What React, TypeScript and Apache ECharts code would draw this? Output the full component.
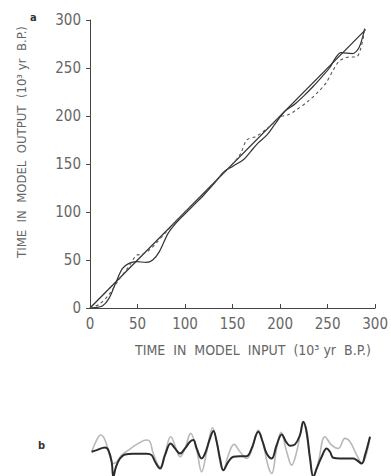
import React, { useEffect, useRef } from "react";
import * as echarts from "echarts";

// Panel a: tick values
const axisTicks = [0, 50, 100, 150, 200, 250, 300];

// Panel a: 1:1 reference line [input, output] (10^3 yr B.P.)
const diagonalLine: number[][] = [
  [0, 0],
  [290, 290],
];

// Panel a: solid model output curve
const solidCurve: number[][] = [
  [0, 0], [5, 0.5], [13, 2], [20, 10], [27, 26], [34, 41], [41, 46.5], [49, 48.3],
  [59, 47.5], [66, 50], [73, 58.7], [82, 77.5], [90, 88], [100, 98], [110, 108],
  [120, 118], [130, 129], [141, 142], [150, 147.5], [162, 155], [169, 163],
  [177, 172], [186, 180], [195, 192], [205, 205], [215, 212], [225, 221],
  [235, 231], [245, 242], [252, 250], [258, 260], [264, 266], [276, 265],
  [283, 271], [289, 291],
];

// Panel a: dashed model output curve
const dashedCurve: number[][] = [
  [0, 0], [10, 4], [20, 14], [30, 29], [40, 42], [49, 55], [55, 56], [62, 60],
  [70, 68], [80, 79], [90, 90], [100, 100], [110, 110], [120, 120], [130, 130],
  [140, 140], [150, 150], [158, 160], [165, 175], [174, 178.5], [180, 182],
  [190, 190], [200, 199], [208, 201], [215, 205], [229, 215], [239, 224],
  [248, 234], [256, 248], [262, 257], [270, 261], [281, 262], [289, 290],
];

// Panel b: dark record (time, relative value)
const darkRecord: number[][] = [
  [1.7, 0.75], [6.8, 0.875], [15.4, 1.075], [18.8, 0.875], [22.2, 0], [23.9, -1.125],
  [26.6, -0.375], [30.7, 0.25], [35.8, 0.55], [44.4, 0.6], [58, 0.6], [63.1, 0.5],
  [66.6, 0], [71.7, -0.5], [76.8, 0.5], [82.6, 1.375], [87, 1.0], [92.2, 0.625],
  [97.3, 1.0], [102.4, 1.5], [105.8, 1.625], [109.2, 1.0], [114.3, 0.25],
  [117.8, 0.625], [122.9, 1.75], [126.3, 2.3], [129.7, 1.5], [133.1, 0.25],
  [136.5, -0.625], [141.6, 0], [146.8, 0.375], [153.6, 0.425], [160.4, 0.425],
  [165.5, 1.0], [172.4, 2.25], [176.8, 1.5], [180.9, 0.625], [186, 0.25],
  [191.1, 1.25], [196.3, 2.05], [200.7, 1.5], [204.8, 1.2], [209.9, 1.3],
  [215, 2.0], [218.4, 3.0], [221.8, 2.25], [225.3, 0.25], [228.7, -1.125],
  [232.1, -0.5], [237.2, 0.375], [242.3, 1.0], [245.7, 0.75], [249.1, 0.3],
  [256, 0.25], [262.8, 0.25], [269.6, 0.25], [273.1, 0.125], [278.2, -0.125],
  [281.6, 0.5], [286.7, 1.875],
];

// Panel b: light record
const lightRecord: number[][] = [
  [1.7, 0.75], [6.8, 1.625], [10.9, 2.0], [15.4, 1.625], [20.5, 0.375], [23.9, -0.125],
  [27.3, 0], [32.4, 0.5], [39.3, 0.875], [49.5, 1.375], [58, 1.625], [61.4, 1.5],
  [64.8, 0.625], [71.7, -0.375], [76.8, 0.625], [82.6, 1.875], [88.7, 0.875],
  [92.2, 0.375], [97.3, 1.0], [103.1, 2.125], [109.2, 0.875], [114.3, -0.75],
  [119.5, 0.75], [125.6, 2.55], [129.7, 1.5], [133.1, 0], [136.5, -0.625],
  [141.6, 0.5], [147.5, 1.3], [153.6, 0.75], [160.4, 0.25], [165.5, 0.875],
  [172.4, 2.375], [177.5, 1.25], [182.6, -0.375], [186, -0.875], [191.1, 1.0],
  [195.6, 2.2], [201.4, 0.75], [206.5, -0.25], [211.6, 0.75], [218.4, 2.875],
  [225.3, 0.25], [228.7, -1.125], [233.8, 0], [240.6, 1.875], [247.4, 1.25],
  [254.3, 1.0], [261.1, 1.75], [266.2, 1.5], [273.1, 0.5], [278.2, -0.125],
  [286.7, 1.875],
];

const FONT = "'Liberation Sans Narrow', 'DejaVu Sans Condensed', 'Roboto', sans-serif";
const TEXT_COLOR = "#666";
const LINE_COLOR = "#333";

export default function App() {
  const ref = useRef<HTMLDivElement>(null);

  useEffect(() => {
    if (!ref.current) return;
    const chart = echarts.init(ref.current, undefined, { renderer: "svg" });
    const tickMin = axisTicks[0];
    const tickMax = axisTicks[axisTicks.length - 1];
    const tickStep = axisTicks[1] - axisTicks[0];

    chart.setOption({
      animation: false,
      backgroundColor: "#fff",
      grid: [
        { left: 90, right: 8, top: 20, bottom: 168 },
        { left: 90, right: 8, top: 419, bottom: 0 },
      ],
      xAxis: [
        {
          gridIndex: 0,
          type: "value",
          min: tickMin,
          max: tickMax,
          interval: tickStep,
          axisLine: { show: true, lineStyle: { color: "#444", width: 1 } },
          axisTick: { show: true, inside: true, length: 4, lineStyle: { color: "#444" } },
          splitLine: { show: false },
          axisLabel: { color: TEXT_COLOR, fontFamily: FONT, fontSize: 15, margin: 8 },
        },
        {
          gridIndex: 1,
          type: "value",
          min: 0,
          max: 300,
          show: false,
        },
      ],
      yAxis: [
        {
          gridIndex: 0,
          type: "value",
          min: tickMin,
          max: tickMax,
          interval: tickStep,
          axisLine: { show: true, lineStyle: { color: "#444", width: 1 } },
          axisTick: { show: true, inside: false, length: 4, lineStyle: { color: "#444" } },
          splitLine: { show: false },
          axisLabel: { color: TEXT_COLOR, fontFamily: FONT, fontSize: 15, margin: 9 },
        },
        {
          gridIndex: 1,
          type: "value",
          min: -1.06,
          max: 3.2,
          show: false,
        },
      ],
      series: [
        {
          type: "line",
          xAxisIndex: 0,
          yAxisIndex: 0,
          data: diagonalLine,
          showSymbol: false,
          lineStyle: { color: LINE_COLOR, width: 1.3 },
        },
        {
          type: "line",
          xAxisIndex: 0,
          yAxisIndex: 0,
          data: solidCurve,
          showSymbol: false,
          smooth: 0.3,
          lineStyle: { color: LINE_COLOR, width: 1.2 },
        },
        {
          type: "line",
          xAxisIndex: 0,
          yAxisIndex: 0,
          data: dashedCurve,
          showSymbol: false,
          smooth: 0.3,
          lineStyle: { color: "#555", width: 1.1, type: [3, 3] },
        },
        {
          type: "line",
          xAxisIndex: 1,
          yAxisIndex: 1,
          data: lightRecord,
          showSymbol: false,
          smooth: 0.4,
          lineStyle: { color: "#b8b8b8", width: 1.6 },
        },
        {
          type: "line",
          xAxisIndex: 1,
          yAxisIndex: 1,
          data: darkRecord,
          showSymbol: false,
          smooth: 0.4,
          lineStyle: { color: "#2b2b2b", width: 2 },
        },
      ],
      graphic: [
        {
          type: "text",
          left: 30,
          top: 12,
          style: { text: "a", font: `bold 11px ${FONT}`, fill: "#333" },
        },
        {
          type: "text",
          left: 38,
          top: 440,
          style: { text: "b", font: `bold 11px ${FONT}`, fill: "#333" },
        },
        {
          type: "text",
          x: 253,
          y: 350,
          style: {
            text: "TIME  IN  MODEL  INPUT  (10³ yr  B.P.)",
            font: `14px ${FONT}`,
            fill: TEXT_COLOR,
            align: "center",
            verticalAlign: "middle",
          },
        },
        {
          type: "text",
          x: 21,
          y: 142,
          rotation: Math.PI / 2,
          style: {
            text: "TIME  IN  MODEL  OUTPUT  (10³ yr  B.P.)",
            font: `13px ${FONT}`,
            fill: TEXT_COLOR,
            align: "center",
            verticalAlign: "middle",
          },
        },
      ],
    });
    return () => chart.dispose();
  }, []);

  return (
    <div
      ref={ref}
      style={{ position: "absolute", left: 0, top: 0, width: 391, height: 476 }}
    />
  );
}
